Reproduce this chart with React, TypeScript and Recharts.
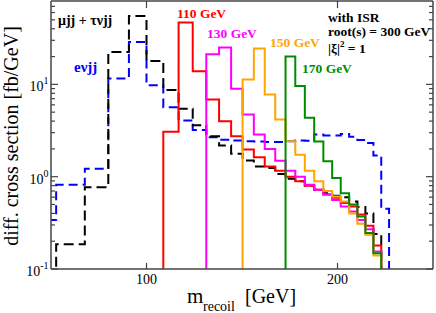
import { LineChart, Line, XAxis, YAxis } from 'recharts';

// bin edges in m_recoil [GeV] (bins get narrower to the right)
const EDGES = [30, 52.7, 67.7, 80, 90.8, 100, 108.8, 116.8, 124.2, 131.3, 138, 144.3, 150.3, 156.2, 161.9, 167.4, 172.8, 177.9, 182.9, 187.8, 192.6, 197.2, 201.7, 206.1, 210.4, 214.6, 218.8, 222.9, 227];

// each histogram: index of its first bin in EDGES, then one value per bin [fb/GeV]
const EVJJ_FIRST = 0;
const EVJJ = [0.34, 0.82, 1.22, 11.6, 28.8, 9.8, 5.66, 4.05, 3.2, 2.67, 2.52, 2.46, 2.42, 2.4, 2.38, 2.38, 2.42, 2.46, 2.45, 2.86, 2.8, 2.8, 2.9, 2.7, 2.5, 2.32, 1.7, 0.45];

const MUJJ_FIRST = 1;
const MUJJ = [0.185, 0.77, 22.4, 55, 17.9, 8.7, 5.45, 3.61, 2.74, 2.17, 1.77, 1.5, 1.29, 1.24, 1.07, 0.95, 0.89, 0.8, 0.72, 0.66, 0.62, 0.6, 0.54, 0.47, 0.4, 0.24];

const H110_FIRST = 6;
const H110 = [3.06, 46.8, 13.9, 6.87, 3.99, 2.74, 1.97, 1.62, 1.29, 1.16, 1.0, 0.89, 0.8, 0.72, 0.64, 0.59, 0.52, 0.475, 0.39, 0.295, 0.18];

const H130_FIRST = 9;
const H130 = [21.2, 25.1, 8.98, 4.72, 2.86, 2.0, 1.49, 1.16, 1.0, 0.82, 0.72, 0.64, 0.56, 0.475, 0.42, 0.34, 0.27, 0.155];

const H150_FIRST = 12;
const H150 = [11.3, 24.4, 7.79, 4.17, 2.42, 1.73, 1.16, 0.89, 0.7, 0.61, 0.54, 0.4, 0.31, 0.235, 0.14];

const H170_FIRST = 16;
const H170 = [20, 9.6, 4.35, 2.4, 1.47, 0.97, 0.66, 0.5, 0.37, 0.245, 0.148];

const X_TICKS = [100, 200];
const Y_TICKS = [0.1, 0.2, 0.3, 0.4, 0.5, 0.6, 0.7, 0.8, 0.9, 1, 2, 3, 4, 5, 6, 7, 8, 9, 10, 20, 30, 40, 50, 60, 70];
const Y_MAJOR: Record<string, string> = { '0.1': '-1', '1': '0', '10': '1' };

const FLOOR = 0.05; // below the axis, gets clipped
const FRAME = '#444';
const FONT = '"Liberation Serif", "Times New Roman", serif';

function steps(first: number, values: number[]) {
  const pts = [{ x: EDGES[first], y: FLOOR }];
  values.forEach((v, i) => pts.push({ x: EDGES[first + i], y: v }));
  pts.push({ x: EDGES[first + values.length], y: FLOOR });
  return pts;
}

function BottomTick(props: any) {
  const { x, y, payload } = props;
  return (
    <g>
      <line x1={x} x2={x} y1={y} y2={y - 6} stroke={FRAME} strokeWidth={1.2} />
      <text x={x} y={y + 15} textAnchor="middle" fontSize={14} fontFamily={FONT} fill="#000">
        {payload.value}
      </text>
    </g>
  );
}

function TopTick(props: any) {
  const { x, y } = props;
  return <line x1={x} x2={x} y1={y} y2={y + 7} stroke={FRAME} strokeWidth={1.2} />;
}

function LeftTick(props: any) {
  const { x, y, payload } = props;
  const exp = Y_MAJOR[String(payload.value)];
  const len = exp !== undefined ? 7 : 4;
  return (
    <g>
      <line x1={x} x2={x + len} y1={y} y2={y} stroke={FRAME} strokeWidth={1.2} />
      {exp !== undefined && (
        <text x={x - 2.5} y={y + 7} textAnchor="end" fontSize={14} fontFamily={FONT} fill="#000">
          10<tspan dy={-7} fontSize={10}>{exp}</tspan>
        </text>
      )}
    </g>
  );
}

function RightTick(props: any) {
  const { x, y, payload } = props;
  const len = Y_MAJOR[String(payload.value)] !== undefined ? 7 : 4;
  return <line x1={x} x2={x - len} y1={y} y2={y} stroke={FRAME} strokeWidth={1.2} />;
}

const labelStyle = { fontFamily: FONT, fontWeight: 'bold' as const, fontSize: 13.5 };

export default function App() {
  return (
    <div style={{ position: 'absolute', left: 0, top: 0, width: 436, height: 313, background: '#fff' }}>
      <LineChart width={436} height={313} margin={{ top: 0, right: 2, bottom: 0, left: 0 }}>
        <XAxis
          dataKey="x"
          type="number"
          domain={[50, 250]}
          allowDataOverflow
          ticks={X_TICKS}
          interval={0}
          height={44}
          tickSize={0}
          tickMargin={0}
          tickLine={false}
          tick={<BottomTick />}
          axisLine={{ stroke: FRAME, strokeWidth: 1.5 }}
        />
        <XAxis
          xAxisId="top"
          orientation="top"
          dataKey="x"
          type="number"
          domain={[50, 250]}
          allowDataOverflow
          ticks={X_TICKS}
          interval={0}
          height={1}
          tickSize={0}
          tickMargin={0}
          tickLine={false}
          tick={<TopTick />}
          axisLine={{ stroke: FRAME, strokeWidth: 1.5 }}
        />
        <YAxis
          scale="log"
          type="number"
          domain={[0.1, 80]}
          allowDataOverflow
          ticks={Y_TICKS}
          interval={0}
          width={51}
          tickSize={0}
          tickMargin={0}
          tickLine={false}
          tick={<LeftTick />}
          axisLine={{ stroke: FRAME, strokeWidth: 1.5 }}
        />
        <YAxis
          yAxisId="right"
          orientation="right"
          scale="log"
          type="number"
          domain={[0.1, 80]}
          allowDataOverflow
          ticks={Y_TICKS}
          interval={0}
          width={1}
          tickSize={0}
          tickMargin={0}
          tickLine={false}
          tick={<RightTick />}
          axisLine={{ stroke: FRAME, strokeWidth: 1.5 }}
        />
        <Line data={steps(EVJJ_FIRST, EVJJ)} dataKey="y" type="stepAfter" stroke="#0000ff" strokeWidth={2} strokeDasharray="9 5" dot={false} isAnimationActive={false} />
        <Line data={steps(MUJJ_FIRST, MUJJ)} dataKey="y" type="stepAfter" stroke="#000" strokeWidth={2} strokeDasharray="10 5" dot={false} isAnimationActive={false} />
        <Line data={steps(H110_FIRST, H110)} dataKey="y" type="stepAfter" stroke="#ff0000" strokeWidth={2} dot={false} isAnimationActive={false} />
        <Line data={steps(H130_FIRST, H130)} dataKey="y" type="stepAfter" stroke="#ff00ff" strokeWidth={2} dot={false} isAnimationActive={false} />
        <Line data={steps(H150_FIRST, H150)} dataKey="y" type="stepAfter" stroke="#ffa500" strokeWidth={2} dot={false} isAnimationActive={false} />
        <Line data={steps(H170_FIRST, H170)} dataKey="y" type="stepAfter" stroke="#008c00" strokeWidth={2} dot={false} isAnimationActive={false} />
      </LineChart>
      <svg width={436} height={313} style={{ position: 'absolute', left: 0, top: 0, pointerEvents: 'none' }}>
        <text x={58} y={25} {...labelStyle} fontSize={14} fill="#000">μjj + τνjj</text>
        <text x={74} y={72} {...labelStyle} fontSize={15} fill="#0000ff">eνjj</text>
        <text x={177} y={18} {...labelStyle} fill="#ff0000">110 GeV</text>
        <text x={207} y={38} {...labelStyle} fill="#ff00ff">130 GeV</text>
        <text x={270} y={47} {...labelStyle} fill="#ffa500">150 GeV</text>
        <text x={302} y={73} {...labelStyle} fill="#008c00">170 GeV</text>
        <text x={328} y={21.5} {...labelStyle} fill="#000">with ISR</text>
        <text x={328} y={35.5} {...labelStyle} fill="#000">root(s) = 300 GeV</text>
        <text x={328} y={53} {...labelStyle} fill="#000">
          |ξ|<tspan dy={-6} fontSize={9}>2</tspan><tspan dy={6}> = 1</tspan>
        </text>
        <text x={18} y={136} transform="rotate(-90, 18, 136)" textAnchor="middle" fontFamily={FONT} fontSize={20} fill="#000">
          diff. cross section [fb/GeV]
        </text>
        <text x={187} y={303} fontFamily={FONT} fontSize={21} fill="#000">m</text>
        <text x={203} y={311} fontFamily={FONT} fontSize={14} fill="#000">recoil</text>
        <text x={245} y={303} fontFamily={FONT} fontSize={20} fill="#000">[GeV]</text>
      </svg>
    </div>
  );
}
